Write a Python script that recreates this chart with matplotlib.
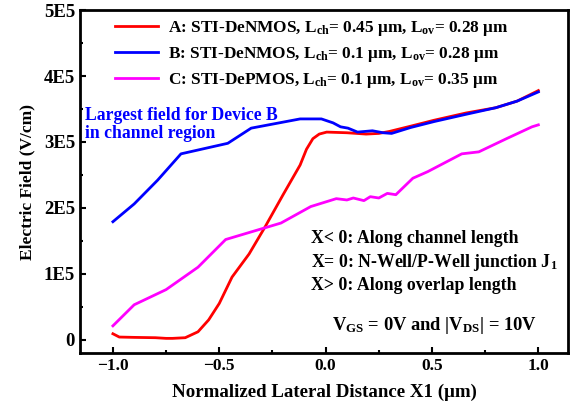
import numpy as np
import matplotlib
matplotlib.use('Agg')
import matplotlib.pyplot as plt
from matplotlib.ticker import MultipleLocator, FixedLocator

plt.rcParams['font.family'] = ['Liberation Serif', 'DejaVu Serif']
plt.rcParams['font.weight'] = 'bold'
plt.rcParams['mathtext.fontset'] = 'custom'
plt.rcParams['mathtext.rm'] = 'Liberation Serif:bold'
plt.rcParams['mathtext.it'] = 'Liberation Serif:bold'
plt.rcParams['mathtext.bf'] = 'Liberation Serif:bold'

# Device A: STI-DeNMOS, Lch = 0.45 um
xA = [-1.0, -0.97, -0.9, -0.8, -0.75, -0.72, -0.66, -0.6, -0.55, -0.5, -0.44,
      -0.36, -0.285, -0.2, -0.12, -0.09, -0.06, -0.03, 0.005, 0.1, 0.19, 0.25,
      0.30, 0.4, 0.51, 0.66, 0.8, 0.9, 1.0]
yA = [0.09e5, 0.04e5, 0.035e5, 0.03e5, 0.02e5, 0.02e5, 0.03e5, 0.12e5, 0.3e5, 0.55e5,
      0.95e5, 1.3e5, 1.71e5, 2.2e5, 2.65e5, 2.89e5, 3.05e5, 3.12e5, 3.15e5, 3.14e5,
      3.12e5, 3.13e5, 3.16e5, 3.24e5, 3.33e5, 3.44e5, 3.52e5, 3.62e5, 3.78e5]

# Device B: STI-DeNMOS, Lch = 0.1 um
xB = [-1.0, -0.9, -0.79, -0.68, -0.46, -0.35, -0.12, -0.02, 0.035, 0.07, 0.105,
      0.15, 0.22, 0.27, 0.31, 0.4, 0.51, 0.66, 0.8, 0.9, 1.0]
yB = [1.79e5, 2.06e5, 2.42e5, 2.82e5, 2.98e5, 3.21e5, 3.35e5, 3.35e5, 3.29e5, 3.23e5,
      3.21e5, 3.15e5, 3.17e5, 3.14e5, 3.13e5, 3.22e5, 3.31e5, 3.42e5, 3.52e5, 3.62e5,
      3.76e5]

# Device C: STI-DePMOS, Lch = 0.1 um
xC = [-1.0, -0.9, -0.75, -0.6, -0.47, -0.21, -0.07, 0.05, 0.10, 0.13, 0.18, 0.21,
      0.25, 0.29, 0.33, 0.41, 0.48, 0.64, 0.72, 0.85, 0.97, 1.0]
yC = [0.21e5, 0.53e5, 0.76e5, 1.1e5, 1.52e5, 1.77e5, 2.02e5, 2.14e5, 2.12e5, 2.15e5,
      2.11e5, 2.17e5, 2.15e5, 2.22e5, 2.2e5, 2.45e5, 2.55e5, 2.82e5, 2.85e5, 3.05e5,
      3.23e5, 3.26e5]

labels = ['A: STI-DeNMOS, L$_{ch}$= 0.45 μm, L$_{ov}$= 0.28 μm',
          'B: STI-DeNMOS, L$_{ch}$= 0.1 μm, L$_{ov}$= 0.28 μm',
          'C: STI-DePMOS, L$_{ch}$= 0.1 μm, L$_{ov}$= 0.35 μm']

yticks = [0, 1e5, 2e5, 3e5, 4e5, 5e5]
yticklabels = ['0', '1E5', '2E5', '3E5', '4E5', '5E5']

fig = plt.figure(figsize=(5.71, 4.07), dpi=100)
ax = fig.add_axes([0.140, 0.133, 0.855, 0.842])

ax.plot(xA, yA, color='#ff0000', lw=2, label=labels[0])
ax.plot(xB, yB, color='#0000ff', lw=2, label=labels[1])
ax.plot(xC, yC, color='#ff00ff', lw=2, label=labels[2])

ax.set_xlim(-1.155, 1.14)
ax.set_ylim(-0.2e5, 5e5)
ax.xaxis.set_major_locator(FixedLocator([-1.0, -0.5, 0.0, 0.5, 1.0]))
ax.xaxis.set_minor_locator(MultipleLocator(0.25))
ax.set_yticks(yticks)
ax.set_yticklabels(yticklabels)
ax.yaxis.set_minor_locator(MultipleLocator(0.5e5))
ax.tick_params(which='both', direction='in', width=1.5)
ax.tick_params(axis='x', labelsize=12.5)
ax.tick_params(axis='y', labelsize=13.5)
ax.tick_params(which='major', length=4)
ax.tick_params(which='minor', length=2)
for s in ax.spines.values():
    s.set_linewidth(2)

ax.set_xlabel('Normalized Lateral Distance X1 (μm)', fontsize=13.6, fontweight='bold', labelpad=7)
ax.set_ylabel('Electric Field (V/cm)', fontsize=12.5, fontweight='bold', labelpad=6)

ax.legend(loc='upper left', bbox_to_anchor=(0.04, 1.02), frameon=False,
          fontsize=12.4, handlelength=2.5, handletextpad=0.6, labelspacing=0.42)

ax.text(-1.13, 3.27e5, 'Largest field for Device B\nin channel region', color='#0000ff',
        fontsize=12.7, fontweight='bold', va='center', linespacing=1.1)

ax.text(-0.07, 1.66e5, 'X< 0: Along channel length\nX= 0: N-Well/P-Well junction J$_1$\nX> 0: Along overlap length',
        fontsize=12.8, fontweight='bold', va='top', linespacing=1.3)
ax.text(0.03, 0.14e5, 'V$_{GS}$ = 0V and |V$_{DS}$| = 10V', fontsize=13.3, fontweight='bold')

fig.savefig('out.png', dpi=100)
